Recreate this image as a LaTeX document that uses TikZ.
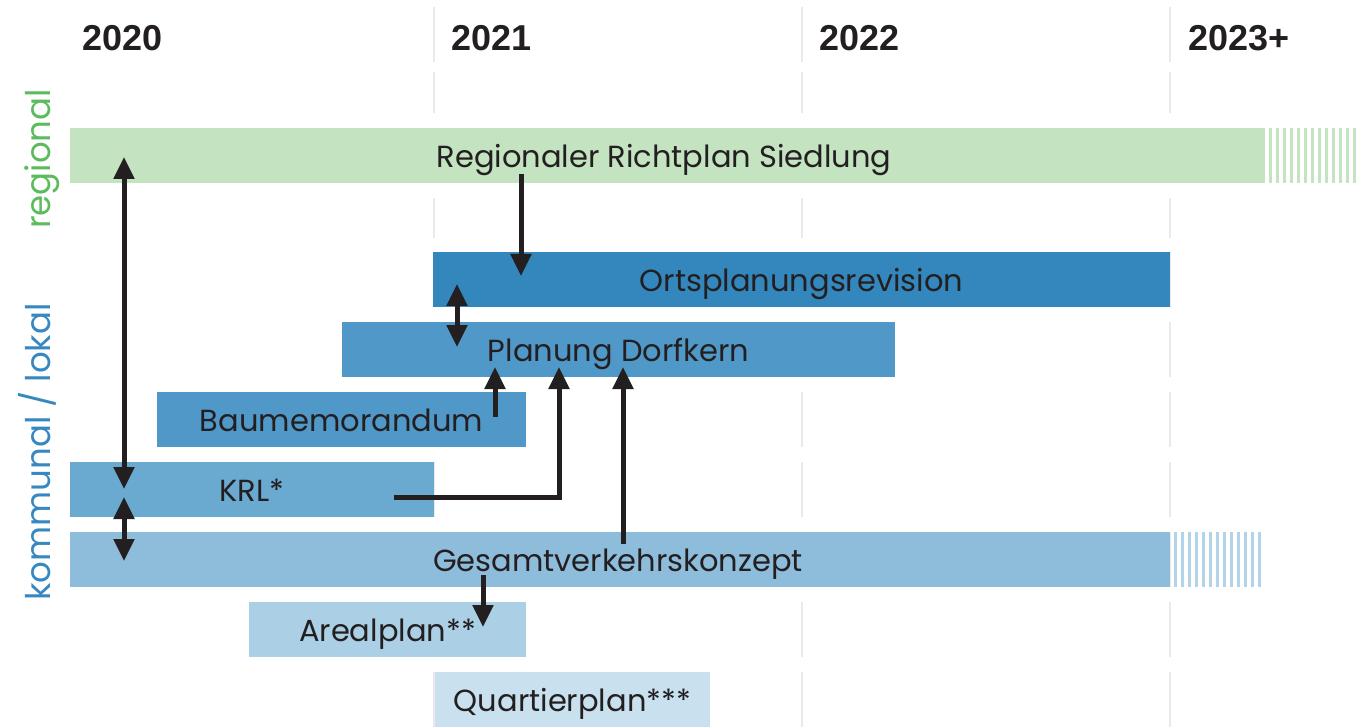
\documentclass[tikz,border=0pt]{standalone}
\usepackage{fontspec}
\setmainfont{Poppins}
\newfontfamily\yearfont{Liberation Sans}
\usetikzlibrary{arrows.meta}
\definecolor{ink}{HTML}{231F20}
\definecolor{cgrid}{HTML}{E9E9E9}
\definecolor{creg}{HTML}{C3E3C1}
\definecolor{corts}{HTML}{3387BD}
\definecolor{cplan}{HTML}{4F98C8}
\definecolor{ckrl}{HTML}{6AA9D0}
\definecolor{cgvk}{HTML}{8EBCDB}
\definecolor{cgvks}{HTML}{B3D3E8}
\definecolor{careal}{HTML}{ABCFE5}
\definecolor{cquart}{HTML}{C9E0EE}
\definecolor{tgreen}{HTML}{5CBB5C}
\definecolor{tblue}{HTML}{3787C0}
\tikzset{
  bartext/.style={text=ink, font=\fontsize{30.5}{34}\selectfont, text height=24pt, text depth=0pt},
  bar/.style={minimum height=55pt, inner sep=0pt, bartext},
  yearlbl/.style={anchor=base west, text=ink, font=\yearfont\bfseries\fontsize{36}{40}\selectfont, inner sep=0pt},
  sidelbl/.style={rotate=90, anchor=base, inner sep=0pt, font=\fontsize{34}{38}\selectfont},
  gridln/.style={draw=cgrid, line width=2pt},
  arr/.style={draw=ink, line width=5pt, -{Triangle[width=20pt,length=22pt]}},
  dblarr/.style={draw=ink, line width=5pt, {Triangle[width=20pt,length=22pt]}-{Triangle[width=20pt,length=22pt]}}
}
\begin{document}
\begin{tikzpicture}[x=1pt,y=-1pt]
\useasboundingbox (0,0) rectangle (1357,727);
% grid lines
\foreach \gx in {434,802,1170}{
  \foreach \ya/\yb in {7/62,72/113,198/238,252/307,322/377,392/447,462/517,532/587,602/657,672/727}{
    \draw[gridln] (\gx,\ya) -- (\gx,\yb);
  }
}
% year labels
\node[yearlbl] (y2020) at (82,51) {2020};
\node[yearlbl] (y2021) at (451,51) {2021};
\node[yearlbl] (y2022) at (819,51) {2022};
\node[yearlbl] (y2023) at (1188,51) {2023+};
% side labels
\node[sidelbl, text=tgreen] (lreg) at (50,159) {regional};
\node[sidelbl, text=tblue] (lkom) at (50,452) {kommunal / lokal};
% bars
\node[bar, fill=creg, minimum width=1195pt] (reg) at (667.5,155.5) {};
\node[bartext, inner sep=0pt] (regt) at (664,155.5) {Regionaler Richtplan Siedlung};
\foreach \i in {0,...,12}{\fill[creg] (1269+7*\i,128) rectangle ++(3,55);}
\node[bar, fill=corts, minimum width=737pt] (orts) at (801.5,279.5) {Ortsplanungsrevision};
\node[bar, fill=cplan, minimum width=553pt] (plan) at (618.5,349.5) {Planung Dorfkern};
\node[bar, fill=cplan, minimum width=369pt] (baum) at (341.5,419.5) {Baumemorandum};
\node[bar, fill=ckrl, minimum width=364pt] (krl) at (252,489.5) {KRL*};
\node[bar, fill=cgvk, minimum width=1100pt] (gvk) at (620,559.5) {};
\node[bartext, inner sep=0pt] (gvkt) at (618,559.5) {Gesamtverkehrskonzept};
\foreach \i in {0,...,12}{\fill[cgvks] (1174+7*\i,532) rectangle ++(3,55);}
\node[bar, fill=careal, minimum width=277pt] (areal) at (387.5,629.5) {Arealplan**};
\node[bar, fill=cquart, minimum width=275pt] (quart) at (572.5,699.5) {Quartierplan***};
% arrow end points
\coordinate (a1s) at (521,174);
\coordinate (a1e) at (521,276);
\coordinate (a2s) at (457,284);
\coordinate (a2e) at (457,347);
\coordinate (a3s) at (495,417);
\coordinate (a3e) at (495,367);
\coordinate (a4s) at (394,497);
\coordinate (a4e) at (559,367);
\coordinate (a5s) at (623,544);
\coordinate (a5e) at (623,367);
\coordinate (a6s) at (124,157);
\coordinate (a6e) at (124,489);
\coordinate (a7s) at (124,497);
\coordinate (a7e) at (124,561);
\coordinate (a8s) at (483,575);
\coordinate (a8e) at (483,627);
% arrows
\draw[arr] (a1s) -- (a1e);
\draw[dblarr] (a2s) -- (a2e);
\draw[arr] (a3s) -- (a3e);
\draw[arr] (a4s) -| (a4e);
\draw[arr] (a5s) -- (a5e);
\draw[dblarr] (a6s) -- (a6e);
\draw[dblarr] (a7s) -- (a7e);
\draw[arr] (a8s) -- (a8e);
\end{tikzpicture}
\end{document}
